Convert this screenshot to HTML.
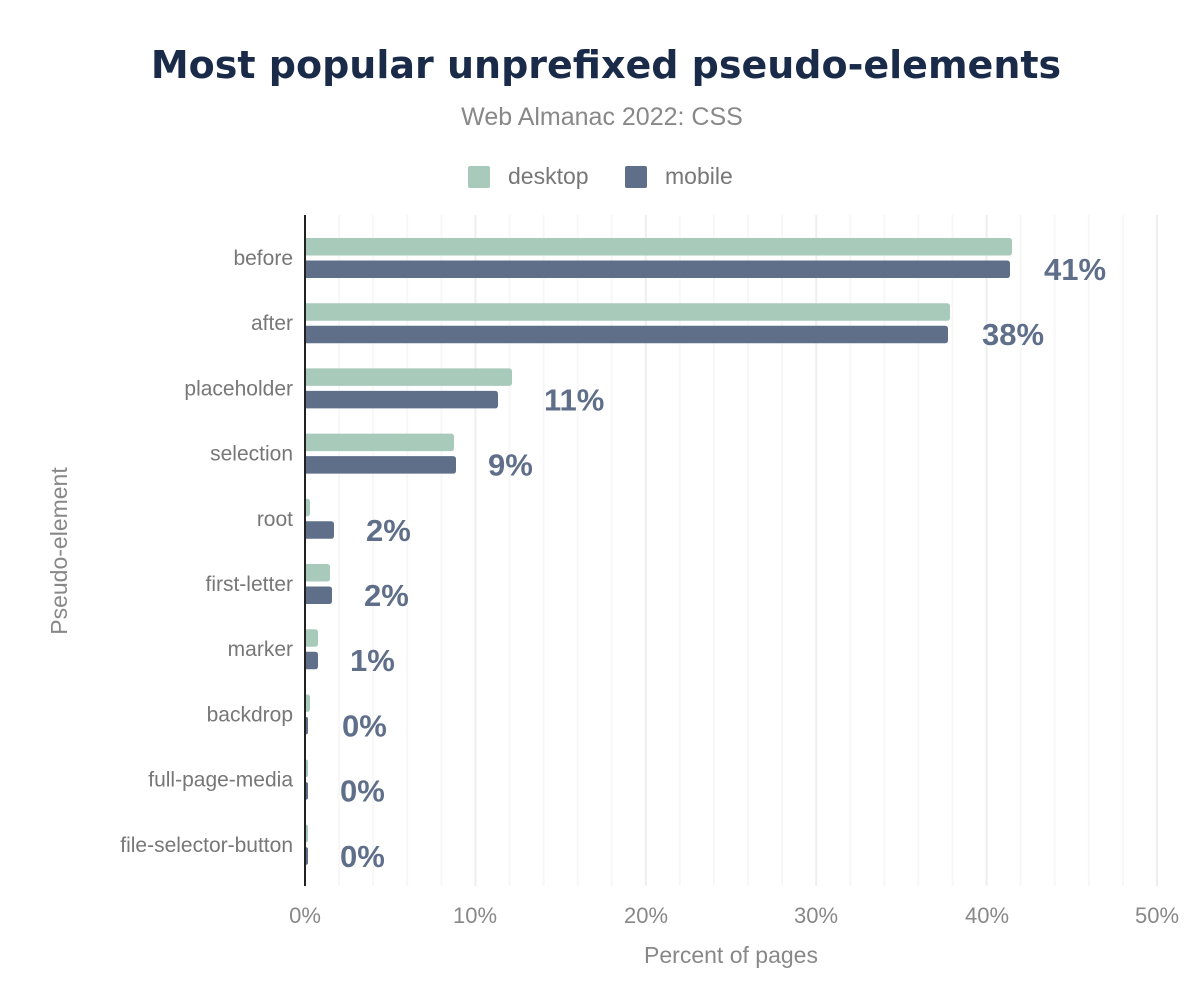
<!DOCTYPE html>
<html><head><meta charset="utf-8"><style>
body{margin:0;background:#fff;}
svg text{font-family:"Liberation Sans",Arial,sans-serif;}
</style></head><body>
<svg width="1200" height="1000" xmlns="http://www.w3.org/2000/svg">
<rect width="1200" height="1000" fill="#fff"/>
<text x="606" y="78" text-anchor="middle" font-size="38" font-weight="900" fill="#1a2b49" style="font-family:'DejaVu Sans','Liberation Sans',sans-serif;font-weight:bold">Most popular unprefixed pseudo-elements</text>
<text x="602" y="125" text-anchor="middle" font-size="25" fill="#888">Web Almanac 2022: CSS</text>
<rect x="468" y="166" width="22" height="22" rx="2" fill="#a8cabb"/>
<text x="508" y="184" font-size="23" fill="#777">desktop</text>
<rect x="625" y="166" width="22" height="22" rx="2" fill="#5f6e89"/>
<text x="665" y="184" font-size="23" fill="#777">mobile</text>
<g id="grid"></g>
<g id="bars"></g>
<line x1="305" y1="215" x2="305" y2="886" stroke="#222" stroke-width="2"/>
<g font-size="22" fill="#888" text-anchor="middle">
<text x="305" y="923">0%</text><text x="475" y="923">10%</text><text x="646" y="923">20%</text><text x="816" y="923">30%</text><text x="987" y="923">40%</text><text x="1157" y="923">50%</text>
</g>
<text x="731" y="963" text-anchor="middle" font-size="23" fill="#888">Percent of pages</text>
<text transform="translate(67,551) rotate(-90)" text-anchor="middle" font-size="23" fill="#888">Pseudo-element</text>
<script>
var g=document.getElementById('grid'),b=document.getElementById('bars'),ns='http://www.w3.org/2000/svg';
for(var i=1;i<=25;i++){var x=305+i*34.08;var l=document.createElementNS(ns,'line');l.setAttribute('x1',x);l.setAttribute('x2',x);l.setAttribute('y1',215);l.setAttribute('y2',886);l.setAttribute('stroke',i%5==0?'#eeeeee':'#f7f7f7');l.setAttribute('stroke-width',2);g.appendChild(l);}
var d=[["before",1012,1010,"41%"],["after",950,948,"38%"],["placeholder",512,498,"11%"],["selection",454,456,"9%"],["root",310,334,"2%"],["first-letter",330,332,"2%"],["marker",318,318,"1%"],["backdrop",310,308,"0%"],["full-page-media",308,308,"0%"],["file-selector-button",308,308,"0%"]];
d.forEach(function(row,k){var c=258+k*65.2;
function rect(y,w,col){var e=document.createElementNS(ns,'path');var x0=304,x1=Math.max(w,306),h=17.5,rr=Math.min(3,(x1-x0)/2);e.setAttribute('d','M'+x0+' '+y+'H'+(x1-rr)+'Q'+x1+' '+y+' '+x1+' '+(y+rr)+'V'+(y+h-rr)+'Q'+x1+' '+(y+h)+' '+(x1-rr)+' '+(y+h)+'H'+x0+'Z');e.setAttribute('fill',col);b.appendChild(e);}
rect(c-20,row[1],'#a8cabb');rect(c+2.5,row[2],'#5f6e89');
var t=document.createElementNS(ns,'text');t.setAttribute('x',293);t.setAttribute('y',c+7);t.setAttribute('text-anchor','end');t.setAttribute('font-size',21);t.setAttribute('fill','#777');t.textContent=row[0];b.appendChild(t);
var v=document.createElementNS(ns,'text');v.setAttribute('x',Math.max(row[1],row[2])+32);v.setAttribute('y',c+22);v.setAttribute('font-size',31);v.setAttribute('font-weight','bold');v.setAttribute('fill','#5f6e89');v.textContent=row[3];b.appendChild(v);
});
</script>
</svg>
</body></html>
